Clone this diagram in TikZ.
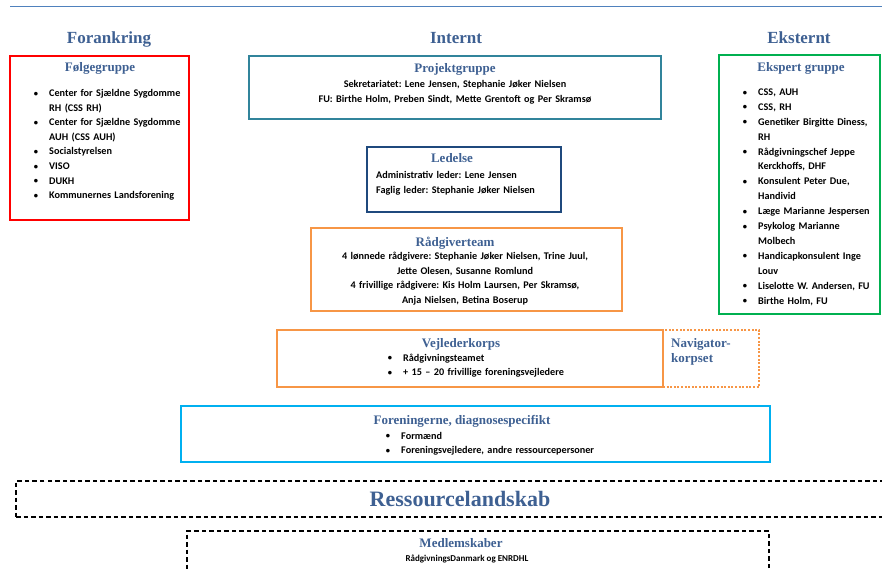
\documentclass[tikz,border=0pt]{standalone}
\usepackage{fontspec}
\setmainfont{Carlito}
\newfontfamily\headfont{Liberation Serif}
\usetikzlibrary{positioning}
\definecolor{headblue}{RGB}{62,96,146}
\definecolor{rulegray}{RGB}{79,129,189}
\definecolor{frared}{RGB}{255,0,0}
\definecolor{projteal}{RGB}{49,132,155}
\definecolor{ledblue}{RGB}{31,73,125}
\definecolor{raadorange}{RGB}{247,150,70}
\definecolor{forcyan}{RGB}{0,176,240}
\definecolor{ekspgreen}{RGB}{0,176,80}
\frenchspacing
\newlength{\bulw}
\setlength{\bulw}{16pt}
\newcommand{\bitem}{\makebox[\bulw][l]{\hspace{0.6pt}\raisebox{0.4pt}{\fontsize{8.5}{8}\selectfont\textbullet}}}
\newcommand{\bcont}{\hspace*{\bulw}}

\tikzset{
  orgbox/.style={draw=#1, line width=2.4pt, anchor=north west, inner sep=0pt, outer sep=0pt},
  dashbox/.style={orgbox=black, line width=1.2pt, dash pattern=on 4.5pt off 3pt},
  colhead/.style={font=\headfont\bfseries\fontsize{17}{20}\selectfont, text=headblue, anchor=base, inner sep=0pt},
  boxtitle/.style={font=\headfont\bfseries\fontsize{13}{15}\selectfont, text=headblue, anchor=base, inner sep=0pt},
  bodytext/.style={font=\bfseries\fontsize{10.2}{14.6}\selectfont, inner sep=0pt},
  listtext/.style={bodytext, align=left, anchor=base west, text width=#1},
  centertext/.style={bodytext, align=center, anchor=base, text width=#1}
}

\begin{document}
\begin{tikzpicture}[x=1pt,y=-1pt]
  \useasboundingbox (0,0) rectangle (882,569);
  \draw[rulegray, line width=1pt] (10,7) -- (882,7);

  % column headings
  \node[colhead] (forankring) at (109,44) {Forankring};
  \node[colhead] (internt) at (456,44) {Internt};
  \node[colhead] (eksternt) at (799,44) {Eksternt};

  % boxes
  \node[orgbox=frared, minimum width=179pt, minimum height=164pt] (folge) at (10,56) {};
  \node[orgbox=projteal, minimum width=412pt, minimum height=63pt] (proj) at (249,56) {};
  \node[orgbox=ledblue, line width=2pt, minimum width=194pt, minimum height=65pt] (led) at (367,147) {};
  \node[orgbox=raadorange, minimum width=311pt, minimum height=83pt] (raad) at (311,228) {};
  \node[orgbox=raadorange, line width=2pt, dash pattern=on 2pt off 1.6pt, minimum width=96pt, minimum height=57pt] (navi) at (663,330) {};
  \node[orgbox=raadorange, minimum width=386pt, minimum height=57pt] (vejl) at (277,330) {};
  \node[orgbox=forcyan, minimum width=589pt, minimum height=56pt] (foren) at (181,406) {};
  \node[orgbox=ekspgreen, minimum width=161pt, minimum height=259pt] (eksp) at (719,55) {};
  \node[dashbox, minimum width=900pt, minimum height=36pt] (ress) at (16,481) {};
  \node[dashbox, minimum width=582pt, minimum height=70pt] (medl) at (187,531) {};

  % Forankring
  \node[boxtitle] (folgetitle) at (100,72) {Følgegruppe};
  \node[listtext=150pt] (folgelist) at (33,96.5) {%
    \bitem Center for Sjældne Sygdomme\\
    \bcont RH (CSS RH)\\
    \bitem Center for Sjældne Sygdomme\\
    \bcont AUH (CSS AUH)\\
    \bitem Socialstyrelsen\\
    \bitem VISO\\
    \bitem DUKH\\
    \bitem Kommunernes Landsforening};

  % Internt
  \node[boxtitle] (projtitle) at (455,73) {Projektgruppe};
  \node[centertext=400pt] (projtext) at (455,88) {%
    Sekretariatet: Lene Jensen, Stephanie Jøker Nielsen\\
    FU: Birthe Holm, Preben Sindt, Mette Grentoft og Per Skramsø};

  \node[boxtitle] (ledtitle) at (452,163) {Ledelse};
  \node[listtext=180pt] (ledtext) at (376,178.5) {%
    Administrativ leder: Lene Jensen\\
    Faglig leder: Stephanie Jøker Nielsen};

  \node[boxtitle] (raadtitle) at (455,246) {Rådgiverteam};
  \node[centertext=300pt] (raadtext) at (465,259.5) {%
    4 lønnede rådgivere: Stephanie Jøker Nielsen, Trine Juul,\\
    Jette Olesen, Susanne Romlund\\
    4 frivillige rådgivere: Kis Holm Laursen, Per Skramsø,\\
    Anja Nielsen, Betina Boserup};

  \node[boxtitle] (vejltitle) at (461,347) {Vejlederkorps};
  \node[listtext=250pt] (vejllist) at (387,361) {%
    \bitem Rådgivningsteamet\\
    \bitem + 15 – 20 frivillige foreningsvejledere};
  \node[boxtitle, align=left, anchor=base west, text width=85pt] (navititle) at (671,347) {Navigator-\\korpset};

  \node[boxtitle] (forentitle) at (462,424) {Foreningerne, diagnosespecifikt};
  \node[listtext=350pt] (forenlist) at (385,439) {%
    \bitem Formænd\\
    \bitem Foreningsvejledere, andre ressourcepersoner};

  % Eksternt
  \node[boxtitle] (eksptitle) at (801,72) {Ekspert gruppe};
  \node[listtext=135pt, font=\bfseries\fontsize{10.2}{14.9}\selectfont] (ekspdlist) at (742,95.5) {%
    \bitem CSS, AUH\\
    \bitem CSS, RH\\
    \bitem Genetiker Birgitte Diness,\\
    \bcont RH\\
    \bitem Rådgivningschef Jeppe\\
    \bcont Kerckhoffs, DHF\\
    \bitem Konsulent Peter Due,\\
    \bcont Handivid\\
    \bitem Læge Marianne Jespersen\\
    \bitem Psykolog Marianne\\
    \bcont Molbech\\
    \bitem Handicapkonsulent Inge\\
    \bcont Louv\\
    \bitem Liselotte W. Andersen, FU\\
    \bitem Birthe Holm, FU};

  % Ressourcelandskab
  \node[boxtitle, font=\headfont\bfseries\fontsize{22}{26}\selectfont] (resstitle) at (460,506) {Ressourcelandskab};
  \node[boxtitle] (medltitle) at (461,547) {Medlemskaber};
  \node[bodytext, anchor=base, font=\bfseries\fontsize{9}{11}\selectfont] (medltext) at (467,561) {RådgivningsDanmark og ENRDHL};
\end{tikzpicture}
\end{document}
